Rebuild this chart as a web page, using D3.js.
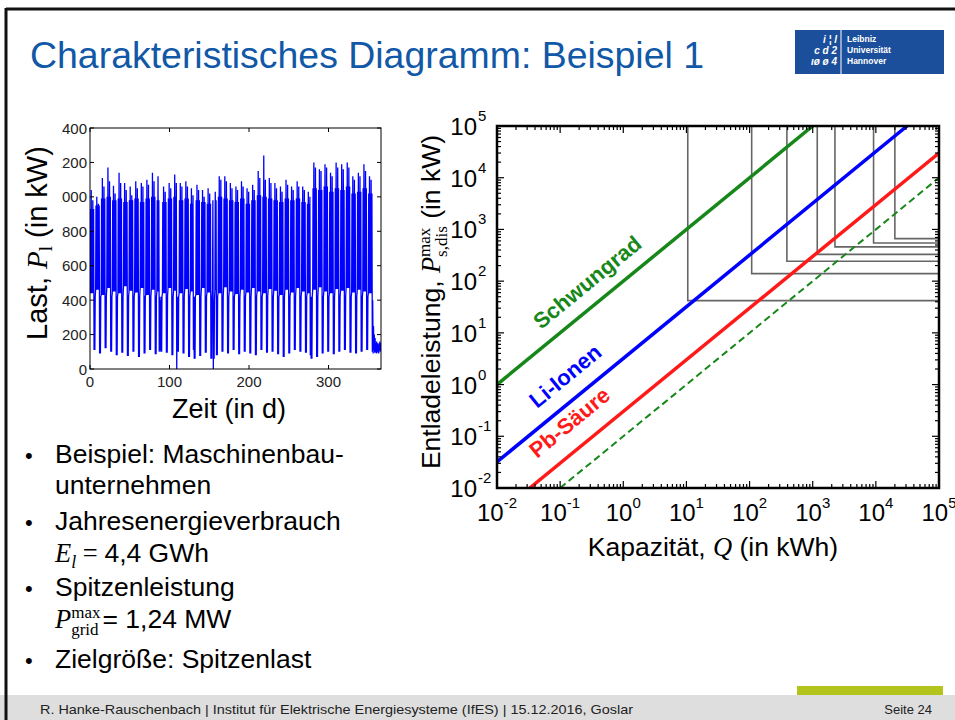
<!DOCTYPE html>
<html><head><meta charset="utf-8">
<script src="https://cdn.jsdelivr.net/npm/d3@7"></script>
<style>
html,body{margin:0;padding:0;background:#fff;overflow:hidden;}
svg{display:block;}
text{font-family:"Liberation Sans",Arial,sans-serif;}
</style></head><body>
<svg id="s" width="955" height="720"></svg>
<script>
// ================= DATA =================
// Left chart: load profile over one year (kW), read per week from the picture
const loadXTicks = [0, 100, 200, 300];
const loadYTicks = [0, 200, 400, 600, 800, 1000, 1200, 1400];
const weekPeak  = [1040,1000,1110,1170,1065,1140,1080,1060,1090,1080,1100,1140,1120,1060,1080,1130,1080,1090,1050,1070,1040,1050,1060,1120,1120,1080,1060,1090,1050,1070,1150,1240,1110,1080,1060,1100,1060,1090,1060,1030,1200,1160,1190,1140,1200,1190,1200,1120,1140,1190,1120,1120,400];
const weekPeak2 = [ 980, 960,1060,1090,1020,1080,1040,1010,1050,1060,1070,1090,1060,1030,1050,1080,1060,1060,1010,1040,1000,1020,1030,1100,1090,1050,1040,1060,1030,1040,1110,1100,1080,1050,1030,1070,1040,1060,1040,1000,1170,1150,1170,1120,1170,1160,1170,1100,1120,1150,1100,1080,350];
const weekTop   = [ 930, 950, 990,1000, 980, 990, 970, 980, 990, 970, 990,1000, 980, 970, 990,1000, 980, 990, 960, 980, 970, 960, 980,1000, 990, 980, 970, 990, 960, 980,1010,1000, 990, 980, 970, 990, 980, 990, 970, 960,1050,1040,1060,1030,1050,1040,1060,1020,1030,1050,1020,1000,300];
const weekNight = [ 440, 460, 430, 470, 450, 440, 480, 455, 445, 470, 430, 460, 450, 440, 470, 455, 440, 465, 450, 430, 470, 445, 460, 440, 475, 450, 435, 460, 445, 470, 450, 440, 465, 455, 430, 460, 445, 470, 450, 440, 460, 475, 450, 440, 465, 455, 470, 445, 460, 450, 440, 455, 200];
const weekFloor = [ 110,  90, 120, 100,  80,  95,  75, 100,  70,  90, 110,  85, 100,  95,  80, 100,  90,  70,  60,  75,  95,  60,  80, 100,  90, 110,  85, 100,  90,  80, 110,  95, 100,  85,  70,  90, 110, 100,  95,  60,  70,  90, 100,  85, 100, 110,  95,  90, 100, 110,  95,  90, 100];
const weekendHigh = 420;
const holidayDays = [87, 88, 109, 130, 155, 156, 277, 355, 356, 357, 358, 359, 360, 361, 362, 363, 364, 365];
const holidayLow  = [100, 110, 0, 110, 0, 60, 80, 100, 90, 110, 95, 100, 90, 95, 100, 90, 110, 100];
const holidayHigh = [420, 400, 420, 290, 380, 400, 420, 400, 250, 200, 180, 150, 160, 150, 140, 150, 160, 150];

// Right chart: characteristic diagram (log-log)
const capExp = [-2, -1, 0, 1, 2, 3, 4, 5];          // tick exponents, both axes
const seriesNames = ["Schwungrad", "Li-Ionen", "Pb-Säure", "Ziel"];
const seriesQ = [[0.01, 1000], [0.01, 31250], [0.033, 1e5], [0.1, 1e5]];   // kWh
const seriesP = [[1, 1e5], [0.032, 1e5], [0.01, 30000], [0.01, 1e4]];     // kW
const boxQ = [10.5, 108, 390, 1180, 2250, 9200, 20000];   // kWh
const boxP = [42, 140, 242, 330, 460, 548, 664];          // kW

// ================= DRAW =================
const svg = d3.select("#s");
const serif = '"Liberation Serif","Times New Roman",serif';

// slide frame
svg.append("rect").attr("x",0).attr("y",695).attr("width",955).attr("height",25).attr("fill","#dedede");
svg.append("line").attr("x1",6).attr("x2",955).attr("y1",9).attr("y2",9).attr("stroke","#111").attr("stroke-width",3);
svg.append("line").attr("x1",6).attr("x2",6).attr("y1",8).attr("y2",720).attr("stroke","#111").attr("stroke-width",3);
svg.append("rect").attr("x",797).attr("y",686).attr("width",146).attr("height",9).attr("fill","#b3c51c");

// title
svg.append("text").attr("x",30).attr("y",68).attr("font-size",36).attr("fill","#1158a7")
  .attr("textLength",674).attr("lengthAdjust","spacingAndGlyphs")
  .text("Charakteristisches Diagramm: Beispiel 1");

// logo
const logo = svg.append("g");
logo.append("rect").attr("x",795).attr("y",30).attr("width",149).attr("height",44).attr("fill","#1b4f9c");
logo.append("line").attr("x1",841).attr("x2",841).attr("y1",30).attr("y2",74).attr("stroke","#fff").attr("stroke-width",1);
["i ¦ l","c d 2","ιø ø 4"].forEach((t,i)=>logo.append("text").attr("x",837).attr("y",43+i*11).attr("text-anchor","end")
  .attr("font-size",10).attr("font-style","italic").attr("font-family",serif).attr("fill","#fff").attr("font-weight","bold").text(t));
["Leibniz","Universität","Hannover"].forEach((t,i)=>logo.append("text").attr("x",847).attr("y",42+i*11)
  .attr("font-size",8.5).attr("font-weight","bold").attr("fill","#fff").text(t));

// footer
svg.append("text").attr("x",40).attr("y",714).attr("font-size",13).attr("fill","#222")
  .attr("textLength",593).attr("lengthAdjust","spacingAndGlyphs")
  .text("R. Hanke-Rauschenbach | Institut für Elektrische Energiesysteme (IfES) | 15.12.2016, Goslar");
svg.append("text").attr("x",932).attr("y",714).attr("font-size",13).attr("fill","#222").attr("text-anchor","end")
  .text("Seite 24");

// ---------- left chart ----------
const L = {l:90, r:381, t:128, b:369};
const lx = d3.scaleLinear().domain([0,366]).range([L.l, L.r]);
const ly = d3.scaleLinear().domain([0,1400]).range([L.b, L.t]);
const defs = svg.append("defs");
defs.append("clipPath").attr("id","cl").append("rect").attr("x",L.l).attr("y",L.t).attr("width",L.r-L.l).attr("height",L.b-L.t);
defs.append("clipPath").attr("id","cly").append("rect").attr("x",61.5).attr("y",100).attr("width",40).attr("height",300);

const pts = [];
for (let d = 0; d < 366; d++) {
  const w = Math.floor(d/7), dow = d % 7;
  let lo, hi;
  const h = holidayDays.indexOf(d);
  if (h >= 0) { lo = holidayLow[h]; hi = holidayHigh[h]; }
  else if (dow >= 5) { lo = weekFloor[w]; hi = weekendHigh; }
  else { lo = weekNight[w]; hi = [weekTop[w], weekPeak[w], weekTop[w], weekPeak2[w], weekTop[w]][dow]; }
  pts.push([d + 0.1, lo], [d + 0.55, hi]);
}
svg.append("path").attr("clip-path","url(#cl)").attr("d", d3.line().x(p=>lx(p[0])).y(p=>ly(p[1]))(pts))
  .attr("fill","none").attr("stroke","#0000ff").attr("stroke-width",1.3);

const lg = svg.append("g").attr("stroke","#000").attr("stroke-width",1);
lg.append("rect").attr("x",L.l).attr("y",L.t).attr("width",L.r-L.l).attr("height",L.b-L.t).attr("fill","none");
loadXTicks.forEach(v=>{
  lg.append("line").attr("x1",lx(v)).attr("x2",lx(v)).attr("y1",L.b).attr("y2",L.b-4);
  lg.append("line").attr("x1",lx(v)).attr("x2",lx(v)).attr("y1",L.t).attr("y2",L.t+4);
  svg.append("text").attr("x",lx(v)).attr("y",387).attr("text-anchor","middle").attr("font-size",15).attr("fill","#222").text(v);
});
const ylab = svg.append("g").attr("clip-path","url(#cly)");
loadYTicks.forEach(v=>{
  lg.append("line").attr("x1",L.l).attr("x2",L.l+4).attr("y1",ly(v)).attr("y2",ly(v));
  lg.append("line").attr("x1",L.r).attr("x2",L.r-4).attr("y1",ly(v)).attr("y2",ly(v));
  ylab.append("text").attr("x",87).attr("y",ly(v)+5.5).attr("text-anchor","end").attr("font-size",15).attr("fill","#222").text(v);
});
svg.append("text").attr("x",229).attr("y",418).attr("text-anchor","middle").attr("font-size",27).text("Zeit (in d)");
const lyl = svg.append("text").attr("transform","translate(47,243) rotate(-90)").attr("text-anchor","middle").attr("font-size",29);
lyl.append("tspan").text("Last, ");
lyl.append("tspan").attr("font-family",serif).attr("font-style","italic").text("P");
lyl.append("tspan").attr("font-family",serif).attr("font-size",19).attr("dy",5).text("l");
lyl.append("tspan").attr("dy",-5).text(" (in kW)");

// ---------- right chart ----------
const R = {l:497, r:939, t:126, b:488};
const xr = d3.scaleLog().domain([1e-2,1e5]).range([R.l, R.r]);
const yr = d3.scaleLog().domain([1e-2,1e5]).range([R.b, R.t]);
defs.append("clipPath").attr("id","cr").append("rect").attr("x",R.l).attr("y",R.t).attr("width",R.r-R.l).attr("height",R.b-R.t);
const plot = svg.append("g").attr("clip-path","url(#cr)");

// gray boxes
boxQ.forEach((q,i)=>{
  plot.append("path").attr("d", d3.line().x(p=>xr(p[0])).y(p=>yr(p[1]))([[q,1e5],[q,boxP[i]],[1e5,boxP[i]]]))
    .attr("fill","none").attr("stroke","#666").attr("stroke-width",1.6);
});
const sColors = ["#17871a","#0000ff","#ff1a1a","#17871a"];
const sWidths = [3.5,3.5,3.5,2];
seriesNames.forEach((n,i)=>{
  plot.append("path").attr("d", d3.line().x(p=>xr(p[0])).y(p=>yr(p[1]))([[seriesQ[i][0],seriesP[i][0]],[seriesQ[i][1],seriesP[i][1]]]))
    .attr("fill","none").attr("stroke",sColors[i]).attr("stroke-width",sWidths[i])
    .attr("stroke-dasharray", i===3 ? "7,4" : null);
});

// ticks
const rg = svg.append("g").attr("stroke","#000").attr("stroke-width",1.2);
const minor = [];
for (let e = -2; e < 5; e++) for (let k = 2; k <= 9; k++) minor.push(k*Math.pow(10,e));
capExp.forEach(e=>{
  const v = Math.pow(10,e);
  rg.append("line").attr("x1",xr(v)).attr("x2",xr(v)).attr("y1",R.b).attr("y2",R.b-7);
  rg.append("line").attr("x1",xr(v)).attr("x2",xr(v)).attr("y1",R.t).attr("y2",R.t+7);
  rg.append("line").attr("y1",yr(v)).attr("y2",yr(v)).attr("x1",R.l).attr("x2",R.l+7);
  rg.append("line").attr("y1",yr(v)).attr("y2",yr(v)).attr("x1",R.r).attr("x2",R.r-7);
});
minor.forEach(v=>{
  rg.append("line").attr("x1",xr(v)).attr("x2",xr(v)).attr("y1",R.b).attr("y2",R.b-4);
  rg.append("line").attr("x1",xr(v)).attr("x2",xr(v)).attr("y1",R.t).attr("y2",R.t+4);
  rg.append("line").attr("y1",yr(v)).attr("y2",yr(v)).attr("x1",R.l).attr("x2",R.l+4);
  rg.append("line").attr("y1",yr(v)).attr("y2",yr(v)).attr("x1",R.r).attr("x2",R.r-4);
});
svg.append("rect").attr("x",R.l).attr("y",R.t).attr("width",R.r-R.l).attr("height",R.b-R.t)
  .attr("fill","none").attr("stroke","#000").attr("stroke-width",2.5);

// tick labels
capExp.forEach(e=>{
  const v = Math.pow(10,e);
  const t = svg.append("text").attr("x",xr(v)).attr("y",521).attr("text-anchor","middle").attr("font-size",24);
  t.append("tspan").text("10");
  t.append("tspan").attr("font-size",15).attr("dy",-13).text(e<0 ? "-"+(-e) : e);
  svg.append("text").attr("x",477).attr("y",yr(v)+9).attr("text-anchor","end").attr("font-size",24).text("10");
  svg.append("text").attr("x",478).attr("y",yr(v)-5).attr("font-size",15).text(e<0 ? "-"+(-e) : e);
});

// axis labels
const xl = svg.append("text").attr("x",713).attr("y",556).attr("text-anchor","middle").attr("font-size",26.5);
xl.append("tspan").text("Kapazität, ");
xl.append("tspan").attr("font-family",serif).attr("font-style","italic").text("Q");
xl.append("tspan").text(" (in kWh)");

const yl = svg.append("text").attr("transform","translate(440,302) rotate(-90)").attr("text-anchor","middle").attr("font-size",26.5);
yl.append("tspan").text("Entladeleistung, ");
yl.append("tspan").attr("font-family",serif).attr("font-style","italic").text("P");
const supT = yl.append("tspan").attr("font-family",serif).attr("font-size",17).attr("dy",-10).text("max");
const subT = yl.append("tspan").attr("font-family",serif).attr("font-size",17).attr("dy",17).text("s,dis");
yl.append("tspan").attr("dy",-7).text(" (in kW)");
const wSup = supT.node().getComputedTextLength();
const wSub = subT.node().getComputedTextLength();
subT.attr("dx", -wSup);
if (wSub < wSup) yl.select("tspan:last-child").attr("dx", wSup - wSub);

// series labels
const ang = -Math.atan((yr(1)-yr(10))/(xr(10)-xr(1)))*180/Math.PI;
const labPos = [[541,330],[537,409],[537,459]];
[0,1,2].forEach(i=>{
  svg.append("text").attr("transform",`translate(${labPos[i][0]},${labPos[i][1]}) rotate(${ang})`)
    .attr("font-size",22).attr("font-weight","bold").attr("fill",sColors[i]).text(seriesNames[i]);
});

// ---------- bullets ----------
const bl = svg.append("g").attr("font-size",26.5);
function bullet(y){ bl.append("text").attr("x",25).attr("y",y).attr("font-size",22).text("•"); }
bullet(463); bl.append("text").attr("x",55).attr("y",463).text("Beispiel: Maschinenbau-");
bl.append("text").attr("x",55).attr("y",494).text("unternehmen");
bullet(530); bl.append("text").attr("x",55).attr("y",530).text("Jahresenergieverbrauch");
const e1 = bl.append("text").attr("x",55).attr("y",562);
e1.append("tspan").attr("font-family",serif).attr("font-style","italic").text("E");
e1.append("tspan").attr("font-family",serif).attr("font-style","italic").attr("font-size",18).attr("dy",6).text("l");
e1.append("tspan").attr("font-family",serif).attr("dy",-6).text(" = ");
e1.append("tspan").text("4,4 GWh");
bullet(596); bl.append("text").attr("x",55).attr("y",596).text("Spitzenleistung");
const p1 = bl.append("text").attr("x",55).attr("y",628);
p1.append("tspan").attr("font-family",serif).attr("font-style","italic").text("P");
const ps = p1.append("tspan").attr("font-family",serif).attr("font-size",17).attr("dy",-10).text("max");
const pb = p1.append("tspan").attr("font-family",serif).attr("font-size",17).attr("dy",17).text("grid");
p1.append("tspan").attr("dy",-7).text("= 1,24 MW");
const w1 = ps.node().getComputedTextLength(), w2 = pb.node().getComputedTextLength();
pb.attr("dx", -w1);
if (w2 < w1) p1.select("tspan:last-child").attr("dx", w1 - w2 + 2);
bullet(668); bl.append("text").attr("x",55).attr("y",668).text("Zielgröße: Spitzenlast");
</script>
</body></html>
